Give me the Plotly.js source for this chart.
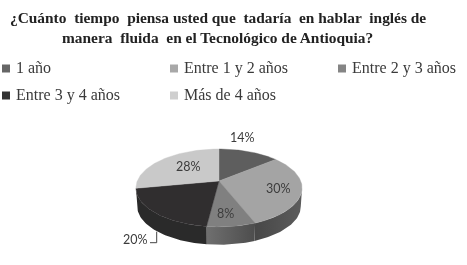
<!DOCTYPE html>
<html>
<head>
<meta charset="utf-8">
<script src="https://cdn.plot.ly/plotly-3.0.1.min.js"></script>
<style>
html,body{margin:0;padding:0;background:#fff;}
#chart{width:467px;height:265px;filter:blur(0.55px);}
</style>
</head>
<body>
<div id="chart"></div>
<script>
var categories = ["1 año","Entre 1 y 2 años","Entre 2 y 3 años","Entre 3 y 4 años","Más de 4 años"];
var percents = [14,30,8,20,28];
var percentLabels = ["14%","30%","8%","20%","28%"];
var topColors = ["#5e5e5e","#a4a4a4","#808080","#302e2f","#c9c9c9"];
var swatchColors = ["#666666","#a8a8a8","#858585","#333333","#cfcfcf"];
var wallStops = [
  null,
  ["#5c5c5c","#474747"],
  ["#4d4d4d","#6f6f6f"],
  ["#2a2a2a","#2a2a2a"],
  null
];
var titleLines = ["¿Cuánto  tiempo  piensa usted que  tadaría  en hablar  inglés de","manera  fluida  en el Tecnológico de Antioquia?"];

// Geometry of the tilted disc, in page-sized axis units
var CX = 219, CY = 181, SX = 81.7, SY = 37.7, P = 0.179, DEPTH = 18.5, SHRINK = 0.985;
var SAMPLE = 1.5;

function project(deg, lower) {
  var t = deg * Math.PI / 180, u = Math.sin(t), v = Math.cos(t), d = 1 + P * v;
  var k = lower ? SHRINK : 1;
  return [CX + k * SX * u / d, CY - k * SY * v / d + (lower ? DEPTH : 0)];
}
function arc(a, b, lower) {
  var pts = [], n = Math.max(1, Math.ceil(Math.abs(b - a) / SAMPLE));
  for (var i = 0; i <= n; i++) pts.push(project(a + (b - a) * i / n, lower));
  return pts;
}
function xs(p){return p.map(function(q){return q[0];});}
function ys(p){return p.map(function(q){return q[1];});}

var total = percents.reduce(function(a,b){return a+b;},0);
var frontStart = Math.acos(-P) * 180 / Math.PI, frontEnd = 360 - frontStart;
var traces = [], topTraces = [], cum = 0;

percents.forEach(function(val, i) {
  var a = cum / total * 360, b = (cum + val) / total * 360;
  cum += val;
  var pa = Math.max(a, frontStart), pb = Math.min(b, frontEnd);
  if (wallStops[i] && pb > pa) {
    var poly = arc(pa, pb, false).concat(arc(pb, pa, true));
    poly.push(poly[0]);
    traces.push({
      x: xs(poly), y: ys(poly), mode: "lines", fill: "toself", line: {width: 0},
      fillgradient: {type: "horizontal", colorscale: [[0, wallStops[i][1]], [1, wallStops[i][0]]]},
      hoverinfo: "skip", showlegend: false
    });
  }
  var slice = [[CX, CY]].concat(arc(a, b, false));
  slice.push([CX, CY]);
  topTraces.push({
    x: xs(slice), y: ys(slice), mode: "lines", fill: "toself", fillcolor: topColors[i],
    line: {width: 0.4, color: topColors[i]}, name: categories[i],
    text: percentLabels[i], hoverinfo: "name+text", showlegend: false
  });
});
traces = traces.concat(topTraces);

// Legend, laid out in the reference's three-column grid
var legendX = [2, 170, 338, 2, 170], legendY = [68.5, 68.5, 68.5, 95.5, 95.5];
categories.forEach(function(c, i) {
  traces.push({
    x: [legendX[i] + 4], y: [legendY[i]], mode: "markers+text", text: [" " + c],
    textposition: "middle right",
    textfont: {family: "Liberation Serif", size: 16, color: "#3a3a3a"},
    marker: {symbol: "square", size: 8, color: swatchColors[i]},
    hoverinfo: "skip", showlegend: false, cliponaxis: false
  });
});

var labelX = [242.7, 278.3, 225.7, 135, 188.3], labelY = [137.7, 188.3, 213.3, 239, 166];
var annotations = percentLabels.map(function(t, i) {
  return {x: labelX[i], y: labelY[i], xref: "x", yref: "y", text: t, showarrow: false,
    font: {family: "Lato", size: 12.5, color: "#3c3c3c"}};
});
titleLines.forEach(function(t, i) {
  annotations.push({x: 217.5, y: 17.5 + 20 * i, xref: "x", yref: "y", text: "<b>" + t + "</b>",
    showarrow: false, font: {family: "Liberation Serif", size: 15.4, color: "#222222"}});
});

var layout = {
  width: 467, height: 265, margin: {l: 0, r: 0, t: 0, b: 0},
  paper_bgcolor: "#ffffff", plot_bgcolor: "#ffffff", showlegend: false,
  xaxis: {range: [0, 467], visible: false, fixedrange: true},
  yaxis: {range: [265, 0], visible: false, fixedrange: true},
  annotations: annotations,
  shapes: [{type: "path", path: "M 150 242.7 L 156.7 242.7 L 156.7 231.7",
    line: {color: "#444444", width: 1}}]
};
Plotly.newPlot("chart", traces, layout, {displayModeBar: false, staticPlot: true});
</script>
</body>
</html>
